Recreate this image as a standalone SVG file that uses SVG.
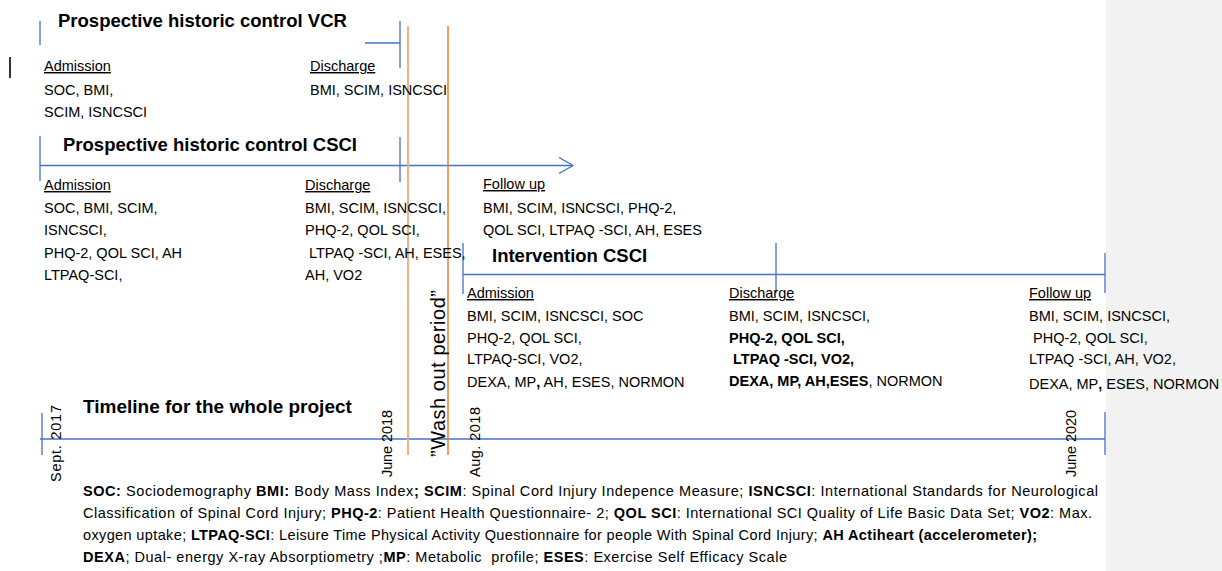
<svg xmlns="http://www.w3.org/2000/svg" width="1222" height="571" viewBox="0 0 1222 571">
<style>
text{font-family:"Liberation Sans",Arial,sans-serif;fill:#000;}
.b{font-size:14.5px;}
.t{font-size:18.5px;font-weight:bold;}
.bd{font-weight:bold;}
.u{text-decoration:underline;}
.lg{font-size:14.5px;}
.d{font-size:14.5px;}
.bl{stroke:#4472C4;stroke-width:1.3;fill:none;}
.or{stroke:#ED7D31;stroke-width:1.5;fill:none;}
</style>
<defs>
<marker id="arr" markerUnits="userSpaceOnUse" markerWidth="18" markerHeight="20" refX="15" refY="9" orient="auto">
<path d="M1,1 L15,9 L1,17" fill="none" stroke="#4472C4" stroke-width="1.3"/>
</marker>
</defs>
<rect x="1106" y="0" width="116" height="571" fill="#f2f2f2"/>
<line x1="10" y1="57" x2="10" y2="78" stroke="#000" stroke-width="1.6"/>
<g id="connectors">
<line class="bl" x1="40" y1="21" x2="40" y2="45"/>
<line class="bl" x1="365" y1="43" x2="400" y2="43"/>
<line class="bl" x1="400" y1="21" x2="400" y2="68"/>
<line class="bl" x1="40" y1="136" x2="40" y2="181"/>
<line class="bl" x1="40" y1="165.5" x2="573" y2="165.5" marker-end="url(#arr)"/>
<line class="bl" x1="400" y1="137" x2="400" y2="182"/>
<line class="bl" x1="463" y1="243" x2="463" y2="294"/>
<line class="bl" x1="463" y1="274.5" x2="1105" y2="274.5"/>
<line class="bl" x1="776" y1="243" x2="776" y2="293"/>
<line class="bl" x1="1105" y1="253" x2="1105" y2="293"/>
<line class="bl" x1="40" y1="439" x2="1105" y2="439"/>
<line class="bl" x1="42" y1="413" x2="42" y2="455"/>
<line class="bl" x1="1105" y1="412" x2="1105" y2="455"/>
<line x1="408" y1="26" x2="408" y2="455" stroke="#F2A878" stroke-width="1.8"/>
<line class="or" x1="448" y1="26" x2="448" y2="455"/>
</g>
<g id="vcr">
<text class="t" x="58" y="27">Prospective historic control VCR</text>
<text class="b u" x="44" y="71">Admission</text>
<text class="b" x="44" y="94.5">SOC, BMI,</text>
<text class="b" x="44" y="117">SCIM, ISNCSCI</text>
<text class="b u" x="310" y="71">Discharge</text>
<text class="b" x="310" y="94.5">BMI, SCIM, ISNCSCI</text>
</g>
<g id="csci">
<text class="t" x="63" y="150.5">Prospective historic control CSCI</text>
<text class="b u" x="44" y="190">Admission</text>
<text class="b" x="44" y="212.5">SOC, BMI, SCIM,</text>
<text class="b" x="44" y="235">ISNCSCI,</text>
<text class="b" x="44" y="257.5">PHQ-2, QOL SCI, AH</text>
<text class="b" x="44" y="280">LTPAQ-SCI,</text>
<text class="b u" x="305" y="190">Discharge</text>
<text class="b" x="305" y="212.5">BMI, SCIM, ISNCSCI,</text>
<text class="b" x="305" y="235">PHQ-2, QOL SCI,</text>
<text class="b" x="309" y="257.5">LTPAQ -SCI, AH, ESES,</text>
<text class="b" x="305" y="280">AH, VO2</text>
<text class="b u" x="483" y="189">Follow up</text>
<text class="b" x="483" y="212.5">BMI, SCIM, ISNCSCI, PHQ-2,</text>
<text class="b" x="483" y="234.5">QOL SCI, LTPAQ -SCI, AH, ESES</text>
</g>
<g id="intervention">
<text class="t" x="492" y="261.5">Intervention CSCI</text>
<text class="b u" x="467" y="298">Admission</text>
<text class="b" x="467" y="320.5">BMI, SCIM, ISNCSCI, SOC</text>
<text class="b" x="467" y="342.5">PHQ-2, QOL SCI,</text>
<text class="b" x="467" y="364">LTPAQ-SCI, VO2,</text>
<text class="b" x="467" y="387">DEXA, MP<tspan class="bd">,</tspan> AH, ESES, NORMON</text>
<text class="b u" x="729" y="298">Discharge</text>
<text class="b" x="729" y="320.5">BMI, SCIM, ISNCSCI,</text>
<text class="b bd" x="729" y="342.5">PHQ-2, QOL SCI,</text>
<text class="b bd" x="733" y="364">LTPAQ -SCI, VO2,</text>
<text class="b" x="729" y="386"><tspan class="bd">DEXA, MP, AH,ESES</tspan>, NORMON</text>
<text class="b u" x="1029" y="298">Follow up</text>
<text class="b" x="1029" y="320.5">BMI, SCIM, ISNCSCI,</text>
<text class="b" x="1033" y="342.5">PHQ-2, QOL SCI,</text>
<text class="b" x="1029" y="364">LTPAQ -SCI, AH, VO2,</text>
<text class="b" x="1029" y="389">DEXA, MP<tspan class="bd">,</tspan> ESES, NORMON</text>
</g>
<g id="timeline">
<text class="t" x="83" y="413" style="font-size:19px">Timeline for the whole project</text>
<text class="d" transform="translate(61,482) rotate(-90)" textLength="77">Sept. 2017</text>
<text class="d" transform="translate(392,477) rotate(-90)" textLength="67">June 2018</text>
<text class="d" transform="translate(480,477) rotate(-90)" textLength="70">Aug. 2018</text>
<text class="d" transform="translate(1076,477) rotate(-90)" textLength="67">June 2020</text>
</g>
<g id="washout">
<text transform="translate(445,457) rotate(-90)" style="font-size:20px" textLength="167">”Wash out period”</text>
</g>
<g id="legend">
<text class="lg" x="83" y="496" textLength="1015"><tspan class="bd">SOC:</tspan> Sociodemography <tspan class="bd">BMI:</tspan> Body Mass Index<tspan class="bd">; SCIM</tspan>: Spinal Cord Injury Indepence Measure; <tspan class="bd">ISNCSCI</tspan>: International Standards for Neurological</text>
<text class="lg" x="83" y="518" textLength="1009">Classification of Spinal Cord Injury; <tspan class="bd">PHQ-2</tspan>: Patient Health Questionnaire- 2; <tspan class="bd">QOL SCI</tspan>: International SCI Quality of Life Basic Data Set; <tspan class="bd">VO2</tspan>: Max.</text>
<text class="lg" x="83" y="540" textLength="954">oxygen uptake; <tspan class="bd">LTPAQ-SCI</tspan>: Leisure Time Physical Activity Questionnaire for people With Spinal Cord Injury; <tspan class="bd">AH Actiheart (accelerometer);</tspan></text>
<text class="lg" x="83" y="562" textLength="704" xml:space="preserve"><tspan class="bd">DEXA</tspan>; Dual- energy X-ray Absorptiometry ;<tspan class="bd">MP</tspan>: Metabolic  profile; <tspan class="bd">ESES</tspan>: Exercise Self Efficacy Scale</text>
</g>
</svg>
